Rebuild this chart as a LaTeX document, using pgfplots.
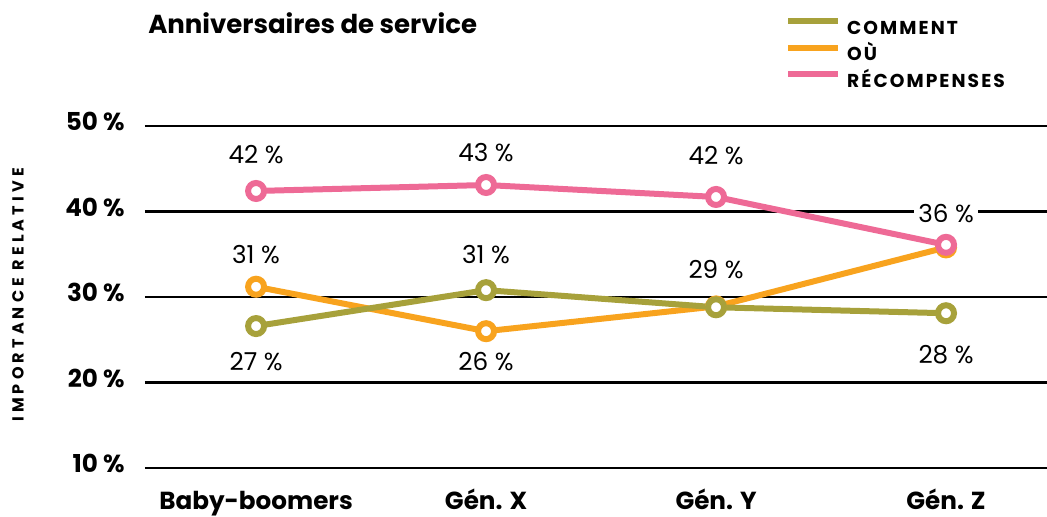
\documentclass[border=0pt]{standalone}
\usepackage{fontspec}
\setmainfont{Poppins}
\usepackage{pgfplots}
\pgfplotsset{compat=1.18}
\definecolor{cOlive}{HTML}{A7A13B}
\definecolor{cOrange}{HTML}{F8A31E}
\definecolor{cPink}{HTML}{EE6A96}
\begin{document}
\begin{tikzpicture}
\useasboundingbox (-108.75pt,-36.75pt) rectangle (676.5pt,351pt);
\begin{axis}[
  at={(0,0)}, anchor=south west,
  scale only axis, width=676.5pt, height=256.5pt,
  xmin=-0.483, xmax=3.439, ymin=10, ymax=50,
  axis line style={draw=none},
  major tick length=0pt,
  xtick={0,1,2,3},
  xticklabels={Baby-boomers,Gén. X,Gén. Y,Gén. Z},
  ytick={10,20,30,40,50},
  yticklabels={10 \%,20 \%,30 \%,40 \%,50 \%},
  xticklabel style={anchor=base, yshift=-31pt, inner sep=0pt, font=\fontsize{18.5}{18.5}\selectfont\bfseries},
  yticklabel style={anchor=base east, xshift=-15pt, yshift=-3.5pt, inner sep=0pt, font=\fontsize{18.5}{18.5}\selectfont\bfseries},
  ymajorgrids, grid style={black, line width=2pt},
  ylabel={IMPORTANCE RELATIVE},
  every axis y label/.style={at={(axis description cs:-0.1408,0.506)}, rotate=90, anchor=center,
     font=\fontsize{12}{12}\selectfont\bfseries\addfontfeature{LetterSpace=26}},
  legend style={at={(axis description cs:0.7095,1.316)}, anchor=north west, draw=none, fill=none,
     inner sep=0pt, row sep=8pt, column sep=0pt,
     nodes={inner sep=0pt, text height=9.5pt, text depth=0pt, font=\fontsize{14}{14}\selectfont\bfseries\addfontfeature{LetterSpace=11}}},
  legend cell align=left,
  legend image code/.code={\draw[line width=4.5pt] (0pt,4.9pt) -- (37.5pt,4.9pt); \path (42pt,0pt);},
  every axis plot/.append style={line width=4.5pt, mark=*, mark size=6pt},
]
\addlegendimage{cOlive}
\addlegendentry{COMMENT}
\addlegendimage{cOrange}
\addlegendentry{OÙ}
\addlegendimage{cPink}
\addlegendentry{RÉCOMPENSES}

\addplot[cOrange, mark options={fill=white, draw=cOrange, line width=4.5pt}, forget plot]
  coordinates {(0,31.2) (1,26.0) (2,28.9) (3,35.8)};
\addplot[cOlive, mark options={fill=white, draw=cOlive, line width=4.5pt}, forget plot]
  coordinates {(0,26.6) (1,30.8) (2,28.8) (3,28.1)};
\addplot[cPink, mark options={fill=white, draw=cPink, line width=4.5pt}, forget plot]
  coordinates {(0,42.4) (1,43.1) (2,41.7) (3,36.1)};

\begin{scope}[every node/.style={anchor=base, inner sep=0pt, font=\fontsize{18.5}{18.5}\selectfont}]
\node at (axis cs:0,45.56) {42 \%};
\node at (axis cs:1,45.79) {43 \%};
\node at (axis cs:2,45.44) {42 \%};
\node[fill=white, inner xsep=3pt, inner ysep=2pt] at (axis cs:3,38.77) {36 \%};
\node at (axis cs:0,33.86) {31 \%};
\node at (axis cs:1,33.86) {31 \%};
\node at (axis cs:2,32.11) {29 \%};
\node at (axis cs:0,21.46) {27 \%};
\node at (axis cs:1,21.35) {26 \%};
\node at (axis cs:3,22.28) {28 \%};
\end{scope}
\end{axis}
\node[anchor=base west, inner sep=0pt, font=\fontsize{19.5}{19.5}\selectfont\bfseries] at (2.25pt,325.5pt) {Anniversaires de service};
\end{tikzpicture}
\end{document}
